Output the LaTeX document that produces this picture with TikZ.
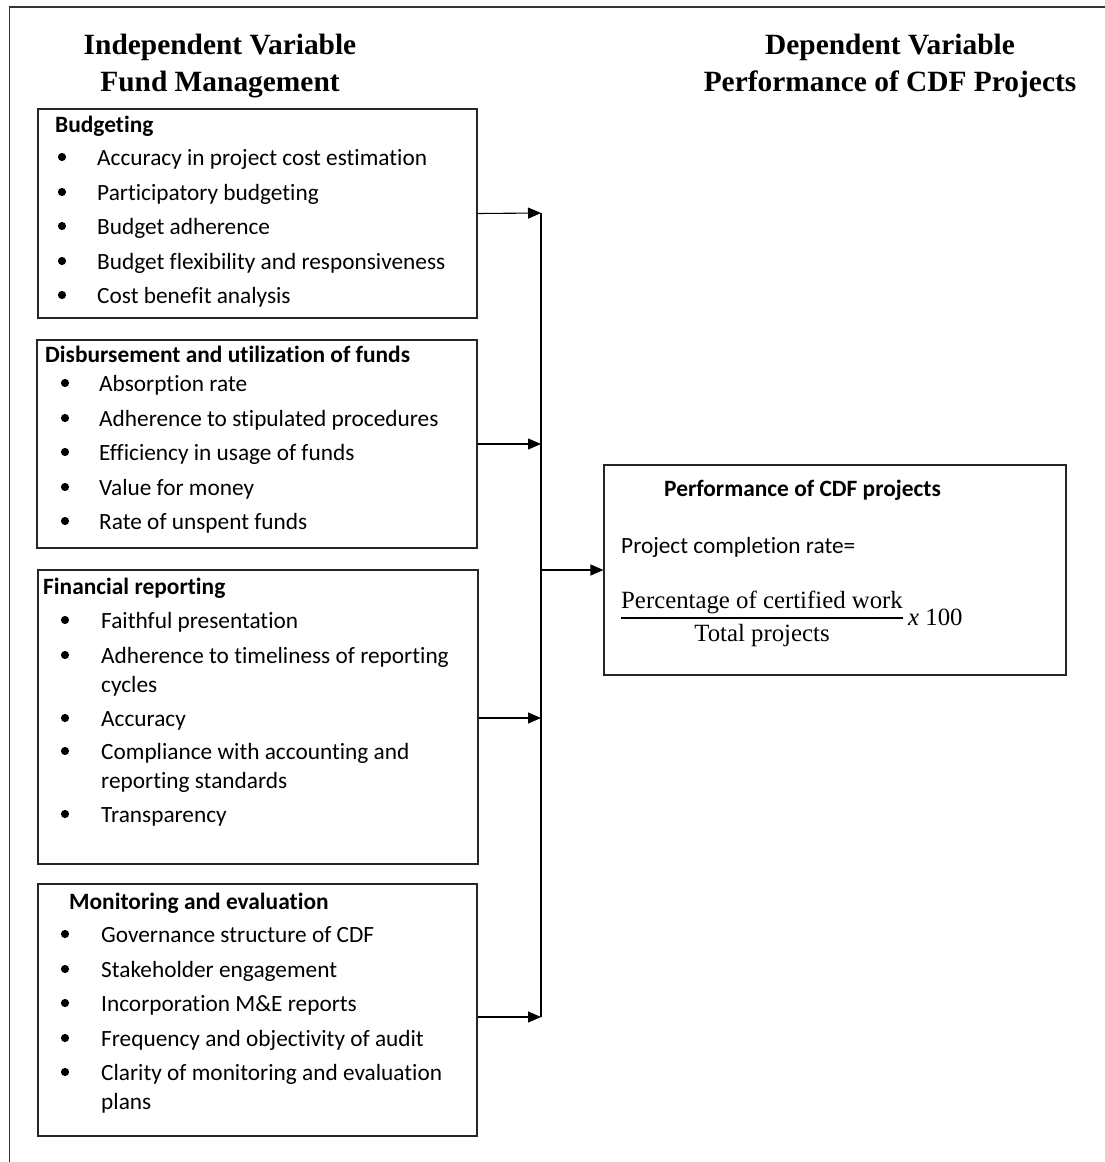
\documentclass[tikz,border=0pt]{standalone}
\usepackage{fontspec}
\setmainfont{Liberation Serif}
\newfontfamily\calib[Ligatures=NoCommon]{Carlito}
\usetikzlibrary{arrows.meta}
\begin{document}
\begin{tikzpicture}[x=1pt,y=-1pt,
  box/.style={draw=black!85, line width=1.1pt, inner sep=0pt},
  item/.style={anchor=base west, inner sep=0pt, font=\calib\fontsize{23.3}{27}\selectfont},
  hd/.style={anchor=base west, inner sep=0pt, font=\calib\bfseries\fontsize{23.4}{27}\selectfont},
  title/.style={anchor=base, inner sep=0pt, font=\bfseries\fontsize{29.4}{34}\selectfont},
  frac/.style={anchor=base west, inner sep=0pt, font=\fontsize{24.8}{29}\selectfont},
  arr/.style={line width=1.1pt, -{Triangle[length=13pt,width=11pt]}},
  bul/.style={fill=black}]
\useasboundingbox (0,0) rectangle (1105,1162);
% outer frame
\draw[black!80, line width=1.1pt] (9.5,1170) -- (9.5,7) -- (1115,7);
% titles
\node[title] (t1) at (220,54) {Independent Variable};
\node[title] (t2) at (220,91) {Fund Management};
\node[title] (t3) at (890,54) {Dependent Variable};
\node[title] (t4) at (890,91) {Performance of CDF Projects};
% boxes
\node[box, minimum width=439pt, minimum height=209pt] (b1) at (257.5,213.5) {};
\node[box, minimum width=440pt, minimum height=208pt] (b2) at (257,444) {};
\node[box, minimum width=440pt, minimum height=294pt] (b3) at (258,717) {};
\node[box, minimum width=439pt, minimum height=252pt] (b4) at (257.5,1010) {};
\node[box, minimum width=462pt, minimum height=210pt] (p) at (835,570) {};
% box 1
\node[hd] (h1) at (55,132) {Budgeting};
\foreach \t/\y [count=\i] in {Accuracy in project cost estimation/157, Participatory budgeting/192, Budget adherence/226, Budget flexibility and responsiveness/261, Cost benefit analysis/295}{
  \fill[bul] (62,\y) circle (4.1);
  \node[item] (b1t\i) at (97,\y+8) {\t};}
% box 2
\node[hd] (h2) at (45,362) {Disbursement and utilization of funds};
\foreach \t/\y [count=\i] in {Absorption rate/383, Adherence to stipulated procedures/418, Efficiency in usage of funds/452, Value for money/487, Rate of unspent funds/521}{
  \fill[bul] (65,\y) circle (4.1);
  \node[item] (b2t\i) at (99,\y+8) {\t};}
% box 3
\node[hd] (h3) at (43,594) {Financial reporting};
\foreach \y in {620,655,718,751,814}{\fill[bul] (65,\y) circle (4.1);}
\foreach \t/\y [count=\i] in {Faithful presentation/620, Adherence to timeliness of reporting/655, cycles/684, Accuracy/718, Compliance with accounting and/751, reporting standards/780, Transparency/814}{
  \node[item] (b3t\i) at (101,\y+8) {\t};}
% box 4
\node[hd] (h4) at (69,909) {Monitoring and evaluation};
\foreach \y in {934,969,1003,1038,1072}{\fill[bul] (65,\y) circle (4.1);}
\foreach \t/\y [count=\i] in {Governance structure of CDF/934, Stakeholder engagement/969, Incorporation M\&E reports/1003, Frequency and objectivity of audit/1038, Clarity of monitoring and evaluation/1072, plans/1101}{
  \node[item] (b4t\i) at (101,\y+8) {\t};}
% right box
\node[hd] (ph) at (664,496) {Performance of CDF projects};
\node[item] (pr) at (621,553) {Project completion rate=};
\node[frac] (num) at (621,608) {Percentage of certified work};
\draw[line width=1.1pt] (621,618) -- (903,618);
\node[frac, anchor=base] (den) at (762,641) {Total projects};
\node[frac] (x100) at (908,625) {\textit{x} 100};
% connectors
\coordinate (c1) at (541,213);
\coordinate (c2) at (541,444);
\coordinate (c3) at (541,718);
\coordinate (c4) at (541,1017);
\coordinate (cp) at (541,570);
\draw[line width=1.1pt] (c1) -- (c4);
\draw[arr] (b1.east) -- (c1);
\draw[arr] (b2.east) -- (c2);
\draw[arr] (b3.east |- c3) -- (c3);
\draw[arr] (b4.east |- c4) -- (c4);
\draw[arr] (cp) -- (p.west);
\end{tikzpicture}
\end{document}
